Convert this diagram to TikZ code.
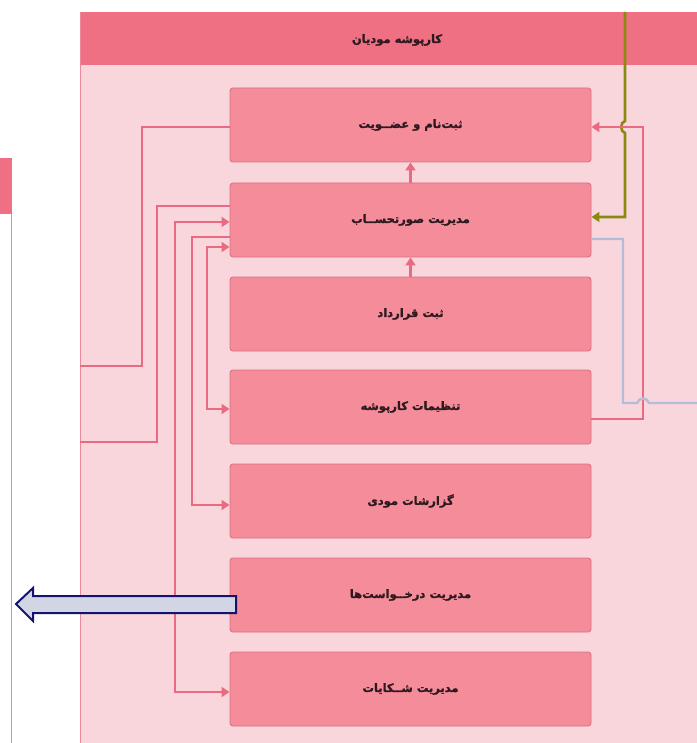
\documentclass[tikz,border=0pt]{standalone}
\usepackage{fontspec}
\usetikzlibrary{arrows.meta}
\TeXXeTstate=1
\newfontfamily\arabicfont[Script=Arabic,FakeBold=1.5]{DejaVu Sans Bold}
\definecolor{panelbg}{HTML}{F9D6DC}
\definecolor{headbg}{HTML}{F07083}
\definecolor{boxbg}{HTML}{F48C9A}
\definecolor{boxline}{HTML}{DC7082}
\definecolor{pk}{HTML}{EA6A82}
\definecolor{olv}{HTML}{8A8A10}
\definecolor{blu}{HTML}{B4BCD8}
\definecolor{txt}{HTML}{2E1A1E}
\definecolor{arrfill}{HTML}{D2D6E4}
\definecolor{arrline}{HTML}{14146E}
\begin{document}
\begin{tikzpicture}[x=1pt,y=-1pt,
  box/.style={draw=boxline,line width=0.9pt,fill=boxbg,rounded corners=3pt,
    minimum width=361pt,minimum height=74pt,inner sep=0pt,
    font=\arabicfont\fontsize{11.5}{13}\selectfont,text=txt},
  pkline/.style={draw=pk,line width=2.4pt},
  pkarrow/.style={-{Triangle[length=8pt,width=10pt]}},
  pkboth/.style={{Triangle[length=8pt,width=10pt]}-{Triangle[length=8pt,width=10pt]}},
  olvline/.style={draw=olv,line width=2.6pt},
  bluline/.style={draw=blu,line width=2.4pt}]
\useasboundingbox (0,0) rectangle (696,743);
% left partial panel
\fill[white] (-5,158) rectangle (12,750);
\fill[headbg] (-5,158) rectangle (12,214);
\draw[draw=black!20!pink,line width=0.8pt] (11,214) -- (11,750);
% main panel
\fill[panelbg] (80,12) rectangle (700,750);
\fill[headbg] (80,12) rectangle (700,65);
\draw[pk!80,line width=0.8pt] (80.5,12) -- (80.5,750);
\node[font=\arabicfont\fontsize{11.5}{13}\selectfont,text=txt] (title) at (397,40) {\beginR کارپوشه مودیان\endR};
% boxes
\node[box] (b1) at (410.5,125) {\beginR ثبت‌نام و عضــویت\endR};
\node[box] (b2) at (410.5,220) {\beginR مدیریت صورتحســاب\endR};
\node[box] (b3) at (410.5,314) {\beginR ثبت قرارداد\endR};
\node[box] (b4) at (410.5,407) {\beginR تنظیمات کارپوشه\endR};
\node[box] (b5) at (410.5,501) {\beginR گزارشات مودی\endR};
\node[box] (b6) at (410.5,595) {\beginR مدیریت درخــواست‌ها\endR};
\node[box] (b7) at (410.5,689) {\beginR مدیریت شــکایات\endR};
% vertical arrows between boxes
\draw[pkline,pkarrow] (b2.north) -- (b1.south);
\draw[pkline,pkarrow] (b3.north) -- (b2.south);
% left connectors
\coordinate (L1) at (80,366);
\coordinate (L2) at (80,442);
\coordinate (c1) at (142,366);
\coordinate (c2) at (157,442);
\coordinate (c3a) at (175,222);
\coordinate (c3b) at (175,692);
\coordinate (c4) at (192,505);
\coordinate (c5) at (207,409);
\draw[pkline] ([yshift=-2pt]b1.west) -| (c1) -- (L1);
\draw[pkline] ([yshift=14pt]b2.west) -| (c2) -- (L2);
\draw[pkline,pkboth] ([yshift=-2pt]b2.west) -- (c3a) -- (c3b) -- ([yshift=-3pt]b7.west);
\draw[pkline,pkarrow] ([yshift=-17pt]b2.west) -| (c4) -- ([yshift=-4pt]b5.west);
\draw[pkline,pkboth] ([yshift=-27pt]b2.west) -| (c5) -- ([yshift=-2pt]b4.west);
% right connectors
\coordinate (o0) at (625,12);
\coordinate (o1) at (625,121);
\coordinate (o2) at (625,133);
\coordinate (o3) at (625,217);
\draw[olvline,-{Triangle[length=8pt,width=10pt]}] (o0) -- (o1) .. controls (620,122) and (620,132) .. (o2) -- (o3) -- ([yshift=3pt]b2.east);
\coordinate (p1) at (643,419);
\coordinate (p2) at (643,127);
\draw[pkline,pkarrow] ([yshift=-12pt]b4.east) -- (p1) -- (p2) -- ([yshift=-2pt]b1.east);
\coordinate (q1) at (623,239);
\coordinate (q2) at (623,403);
\coordinate (q3) at (637,403);
\coordinate (q4) at (649,403);
\coordinate (q5) at (700,403);
\draw[bluline] ([yshift=-19pt]b2.east) -- (q1) -- (q2) -- (q3) .. controls (639,397) and (647,397) .. (q4) -- (q5);
% big hollow arrow
\draw[fill=arrfill,draw=arrline,line width=2pt,line join=miter]
  (236,596) -- (33,596) -- (33,588) -- (16,604) -- (33,621) -- (33,613) -- (236,613) -- cycle;
\end{tikzpicture}
\end{document}
